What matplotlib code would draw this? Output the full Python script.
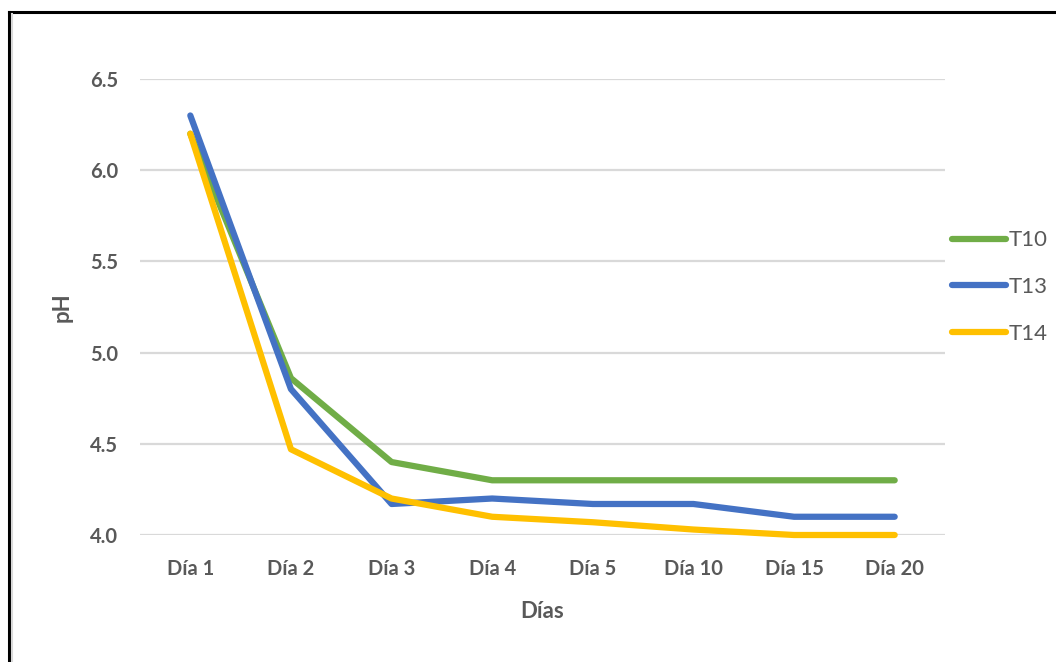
import matplotlib.pyplot as plt
from matplotlib.lines import Line2D

dias = ['Día 1', 'Día 2', 'Día 3', 'Día 4', 'Día 5', 'Día 10', 'Día 15', 'Día 20']
t10 = [6.20, 4.86, 4.40, 4.30, 4.30, 4.30, 4.30, 4.30]
t13 = [6.30, 4.80, 4.17, 4.20, 4.17, 4.17, 4.10, 4.10]
t14 = [6.20, 4.47, 4.20, 4.10, 4.07, 4.03, 4.00, 4.00]
y_ticks = [4.0, 4.5, 5.0, 5.5, 6.0, 6.5]

plt.rcParams['font.family'] = ['Lato', 'DejaVu Sans']
gray = '#595959'

fig = plt.figure(figsize=(10.56, 6.62), dpi=100)
ax = fig.add_axes([140 / 1056, 1 - 535 / 662, 805 / 1056, 456 / 662])

x = range(len(dias))
ax.plot(x, t10, color='#70AD47', lw=4.5, solid_capstyle='round', solid_joinstyle='round', clip_on=False, label='T10')
ax.plot(x, t13, color='#4472C4', lw=4.5, solid_capstyle='round', solid_joinstyle='round', clip_on=False, label='T13')
ax.plot(x, t14, color='#FFC000', lw=4.5, solid_capstyle='round', solid_joinstyle='round', clip_on=False, label='T14')

ax.set_xlim(-0.5, len(dias) - 0.5)
ax.set_ylim(4.0, 6.5)
ax.set_xticks(list(x))
ax.set_xticklabels(dias)
ax.set_yticks(y_ticks)
ax.set_yticklabels([f'{v:.1f}' for v in y_ticks])
ax.grid(axis='y', color='#D9D9D9', lw=1.6)
ax.set_axisbelow(True)
for s in ax.spines.values():
    s.set_visible(False)
ax.tick_params(length=0, labelcolor=gray, labelsize=14.5)
ax.tick_params(axis='x', pad=17)
ax.tick_params(axis='y', pad=16)
for lab in ax.get_xticklabels() + ax.get_yticklabels():
    lab.set_fontweight('bold')

ax.set_xlabel('Días', fontsize=16, fontweight='bold', color=gray, labelpad=16)
ax.set_ylabel('pH', fontsize=16, fontweight='bold', color=gray, labelpad=12)

fig.legend(handles=ax.get_lines(), loc='center left', bbox_to_anchor=(952 / 1056, 1 - 287 / 662),
           frameon=False, fontsize=16, labelcolor=gray, handlelength=2.45, handletextpad=0.12,
           labelspacing=1.2, borderaxespad=0, borderpad=0)

# black frame on left/top edges of the screenshot
fig.add_artist(Line2D([9 / 1056, 9 / 1056], [0, 1 - 12 / 662], color='black', lw=2.2))
fig.add_artist(Line2D([9 / 1056, 1], [1 - 12 / 662, 1 - 12 / 662], color='black', lw=2.2))
fig.add_artist(Line2D([11.5 / 1056, 11.5 / 1056], [0, 1 - 14 / 662], color='#D9D9D9', lw=1.5))

fig.savefig('out.png', dpi=100)
